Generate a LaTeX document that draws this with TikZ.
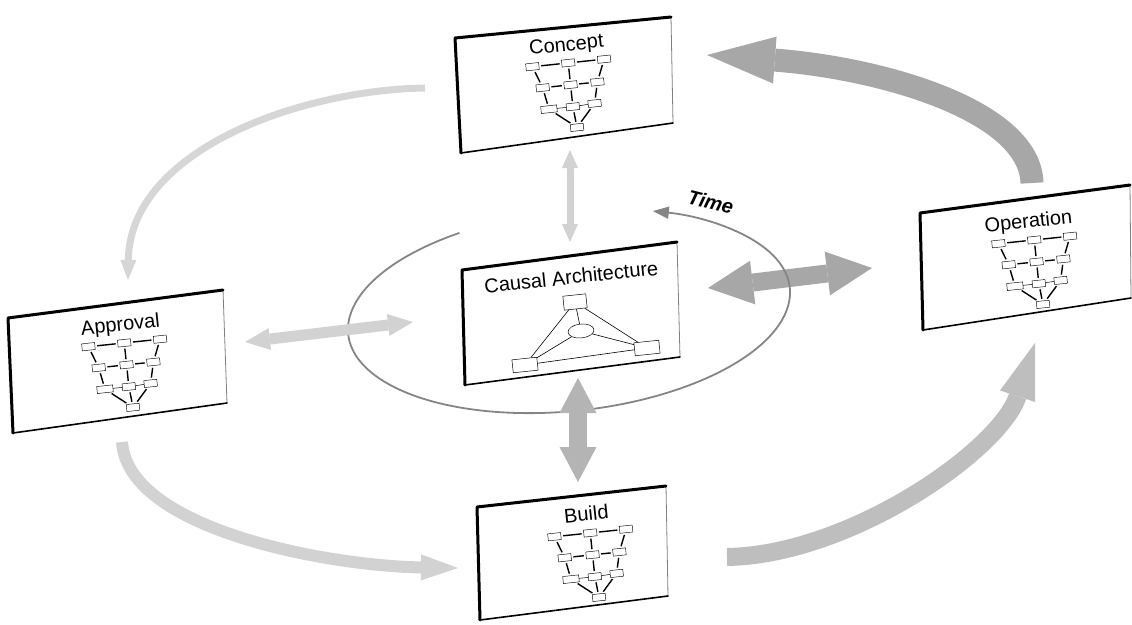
\documentclass[tikz,border=0pt]{standalone}
\usepackage{fontspec}
\newfontfamily\arialfam{Liberation Sans}
\usetikzlibrary{arrows.meta,shapes.geometric}

\definecolor{flowpale}{HTML}{D6D6D6}
\definecolor{flowlight}{HTML}{D2D2D2}
\definecolor{flowmid}{HTML}{BEBEBE}
\definecolor{flowdark}{HTML}{A7A7A7}
\definecolor{linkmid}{HTML}{B4B4B4}
\definecolor{loopgray}{HTML}{858585}

% filled arrow head with explicit size
\newcommand\fathead[2]{Triangle[length=#1pt,width=#2pt,line width=0pt]}

% white panel with heavy top/left rim and light right side
\newcommand\drawpanel[1]{%
  \fill[white] (#1-1) -- (#1-2) -- (#1-3) -- (#1-4) -- cycle;
  \draw[rimside] (#1-2) -- (#1-3);
  \draw[rimlow] (#1-3) -- (#1-4);
  \draw[rimhigh] (#1-4) -- (#1-1) -- (#1-2);
}

\tikzset{
  rimhigh/.style={line width=3pt, black, line join=round, line cap=round},
  rimlow/.style={line width=1.6pt, black, line cap=round},
  rimside/.style={line width=0.8pt, gray},
  title/.style={font=\arialfam\fontsize{20}{24}\selectfont, anchor=base, rotate=6, inner sep=0pt},
  mbox/.style={draw, fill=white, line width=0.45pt, minimum width=13pt, minimum height=7pt, inner sep=0pt, transform shape},
  mwide/.style={mbox, minimum width=16pt},
  mlink/.style={line width=1.4pt, shorten >=2pt, shorten <=2pt},
  mthin/.style={line width=0.5pt},
  tbox/.style={draw, fill=white, line width=0.5pt, minimum width=23pt, minimum height=14pt, inner sep=0pt, rotate=6},
  tlink/.style={line width=0.6pt},
  tree/.pic={
    \node[mbox] (-a1) at (-36,12) {};
    \node[mbox] (-a2) at (0,12) {};
    \node[mbox] (-a3) at (36,12) {};
    \node[mbox] (-b1) at (-28,34) {};
    \node[mbox] (-b2) at (0,34) {};
    \node[mbox] (-b3) at (27,34) {};
    \node[mwide] (-c1) at (-24,56) {};
    \node[mbox] (-c2) at (0,56) {};
    \node[mbox] (-c3) at (22,55) {};
    \node[mbox] (-d) at (2,77) {};
    \draw[mlink] (-a1) -- (-a2);
    \draw[mlink] (-a2) -- (-a3);
    \draw[mlink] (-b1) -- (-b2);
    \draw[mlink] (-b2) -- (-b3);
    \draw[mlink] (-a1) -- (-b1);
    \draw[mlink] (-a2) -- (-b2);
    \draw[mlink] (-a3) -- (-b3);
    \draw[mlink] (-b1) -- (-c1);
    \draw[mlink] (-b2) -- (-c2);
    \draw[mlink] (-b3) -- (-c3);
    \draw[mlink] (-c1) -- (-d);
    \draw[mlink] (-c2) -- (-d);
    \draw[mlink] (-c3) -- (-d);
    \draw[mthin] (-c1) -- (-c2);
    \draw[mthin] (-c2) -- (-c3);
  },
  flowA/.style={draw=flowpale, line width=7pt, -{\fathead{20}{16}}},
  flowB/.style={draw=flowlight, line width=12pt, -{\fathead{37}{26}}},
  flowC/.style={draw=flowmid, line width=18pt, -{\fathead{56}{37}}},
  flowD/.style={draw=flowdark, line width=23pt, -{\fathead{68}{47}}},
  swapE/.style={draw=flowlight, line width=7pt, {\fathead{18}{16}}-{\fathead{18}{16}}},
  swapF/.style={draw=flowlight, line width=11pt, {\fathead{25}{22}}-{\fathead{25}{22}}},
  swapG/.style={draw=flowdark, line width=18pt, {\fathead{45}{44}}-{\fathead{45}{44}}},
  swapH/.style={draw=linkmid, line width=18pt, {\fathead{35}{37}}-{\fathead{35}{37}}},
  timeloop/.style={draw=loopgray, line width=1.8pt, -{Triangle[length=16pt,width=12pt]}},
}

\begin{document}
\begin{tikzpicture}[x=1pt, y=-1pt]
\useasboundingbox (0,0) rectangle (1132,624);

% panel corners: 1 top-left, 2 top-right, 3 bottom-right, 4 bottom-left
\coordinate (cpt-1) at (455,38);  \coordinate (cpt-2) at (671,17);
\coordinate (cpt-3) at (673,123); \coordinate (cpt-4) at (461,153);
\coordinate (cau-1) at (462,270); \coordinate (cau-2) at (677,242);
\coordinate (cau-3) at (680,357); \coordinate (cau-4) at (465,385);
\coordinate (apr-1) at (8,318);   \coordinate (apr-2) at (223,290);
\coordinate (apr-3) at (227,403); \coordinate (apr-4) at (13,433);
\coordinate (opr-1) at (920,213); \coordinate (opr-2) at (1130,185);
\coordinate (opr-3) at (1131,298);\coordinate (opr-4) at (923,330);
\coordinate (bld-1) at (477,507); \coordinate (bld-2) at (666,486);
\coordinate (bld-3) at (668,596); \coordinate (bld-4) at (480,620);

% connector ends
\coordinate (cau-e) at (708,288);  \coordinate (opr-w) at (872,268);
\coordinate (cau-n) at (570,242);  \coordinate (cpt-s) at (570,150);
\coordinate (cau-w) at (413,322);  \coordinate (apr-e) at (245,342);
\coordinate (cau-s) at (578,378);  \coordinate (bld-n) at (578,482);
\coordinate (cpt-w) at (425,88);   \coordinate (apr-n) at (128,280);
\coordinate (apr-s) at (122,442);  \coordinate (bld-w) at (458,568);
\coordinate (bld-e) at (727,557);  \coordinate (opr-s) at (1035,343);
\coordinate (opr-n) at (1032,183); \coordinate (cpt-e) at (707,55);

% link between the causal architecture and operation
\draw[swapG] (cau-e) -- (opr-w);

% time loop around the causal architecture
\begin{scope}[shift={(569,311)}, rotate=6]
  \draw[timeloop] (243:222 and 100) arc[start angle=243, end angle=-65, x radius=222, y radius=100];
\end{scope}
\node[font=\arialfam\bfseries\itshape\fontsize{20}{24}\selectfont, rotate=-14, anchor=base, inner sep=0pt] (time) at (709,209) {Time};

% panels
\drawpanel{cpt}
\drawpanel{cau}
\drawpanel{apr}
\drawpanel{opr}
\drawpanel{bld}

% lifecycle arrows
\draw[flowA] (cpt-w) .. controls (300,90) and (130,150) .. (apr-n);
\draw[flowB] (apr-s) .. controls (128,530) and (330,566) .. (bld-w);
\draw[flowC] (bld-e) .. controls (850,555) and (1000,450) .. (opr-s);
\draw[flowD] (opr-n) .. controls (1030,110) and (880,68) .. (cpt-e);

% links to the causal architecture
\draw[swapE] (cpt-s) -- (cau-n);
\draw[swapF] (apr-e) -- (cau-w);
\draw[swapH] (cau-s) -- (bld-n);

% titles
\node[title] (cpt-t) at (567,51) {Concept};
\node[title] (cau-t) at (572,284) {Causal Architecture};
\node[title] (apr-t) at (121,331) {Approval};
\node[title] (opr-t) at (1029,228) {Operation};
\node[title] (bld-t) at (587,521) {Build};

% small hierarchy sketches
\pic[rotate=6] (cpt-g) at (567,51) {tree};
\pic[rotate=6] (apr-g) at (123,331) {tree};
\pic[rotate=6] (opr-g) at (1033,228) {tree};
\pic[rotate=6] (bld-g) at (589,521) {tree};

% causal triad sketch
\node[tbox] (tri-top) at (575,302) {};
\node[tbox, ellipse, minimum width=26pt] (tri-mid) at (581,331) {};
\node[tbox, minimum width=25pt, minimum height=13pt] (tri-left) at (525,365) {};
\node[tbox, minimum width=25pt, minimum height=13pt] (tri-right) at (647,348) {};
\draw[tlink] (tri-top) -- (tri-left);
\draw[tlink] (tri-top) -- (tri-right);
\draw[tlink] (tri-top) -- (tri-mid);
\draw[tlink] (tri-mid) -- (tri-left);
\draw[tlink] (tri-mid) -- (tri-right);
\draw[tlink] (tri-left) -- (tri-right);
\end{tikzpicture}
\end{document}
